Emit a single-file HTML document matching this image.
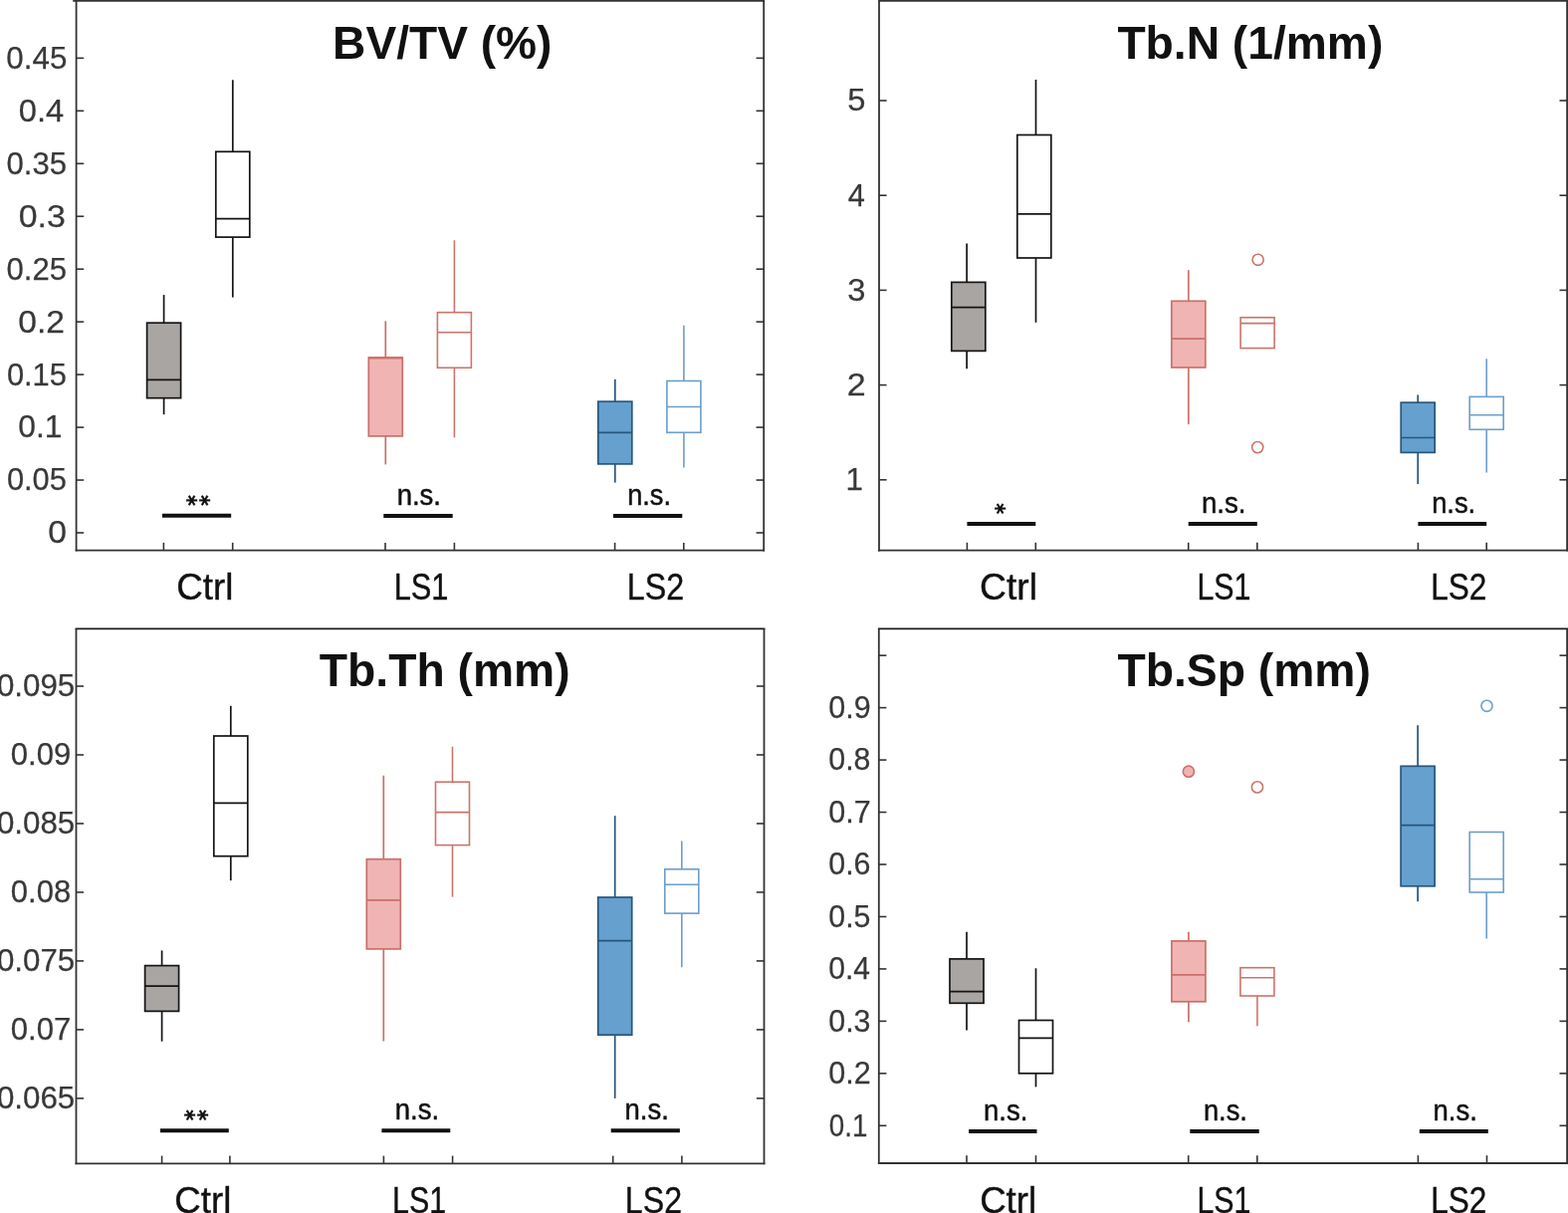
<!DOCTYPE html>
<html><head><meta charset="utf-8"><title>Bone morphometry boxplots</title>
<style>
html,body{margin:0;padding:0;background:#fff;}
body{width:1575px;height:1218px;overflow:hidden;}
svg{display:block;}
text{font-kerning:none;}
</style></head><body>
<svg width="1575" height="1218" viewBox="0 0 1575 1218">
<rect x="0" y="0" width="1575" height="1218" fill="#ffffff"/>
<line x1="73.20" y1="0.90" x2="768.10" y2="0.90" stroke="#333333" stroke-width="1.8"/>
<line x1="76.60" y1="0.90" x2="76.60" y2="553.60" stroke="#333333" stroke-width="1.8"/>
<line x1="767.20" y1="0.90" x2="767.20" y2="553.60" stroke="#333333" stroke-width="1.8"/>
<line x1="75.70" y1="552.70" x2="768.10" y2="552.70" stroke="#333333" stroke-width="1.8"/>
<line x1="76.60" y1="535.00" x2="84.20" y2="535.00" stroke="#333333" stroke-width="1.6"/>
<line x1="767.20" y1="535.00" x2="759.60" y2="535.00" stroke="#333333" stroke-width="1.6"/>
<line x1="76.60" y1="482.04" x2="84.20" y2="482.04" stroke="#333333" stroke-width="1.6"/>
<line x1="767.20" y1="482.04" x2="759.60" y2="482.04" stroke="#333333" stroke-width="1.6"/>
<line x1="76.60" y1="429.08" x2="84.20" y2="429.08" stroke="#333333" stroke-width="1.6"/>
<line x1="767.20" y1="429.08" x2="759.60" y2="429.08" stroke="#333333" stroke-width="1.6"/>
<line x1="76.60" y1="376.12" x2="84.20" y2="376.12" stroke="#333333" stroke-width="1.6"/>
<line x1="767.20" y1="376.12" x2="759.60" y2="376.12" stroke="#333333" stroke-width="1.6"/>
<line x1="76.60" y1="323.16" x2="84.20" y2="323.16" stroke="#333333" stroke-width="1.6"/>
<line x1="767.20" y1="323.16" x2="759.60" y2="323.16" stroke="#333333" stroke-width="1.6"/>
<line x1="76.60" y1="270.20" x2="84.20" y2="270.20" stroke="#333333" stroke-width="1.6"/>
<line x1="767.20" y1="270.20" x2="759.60" y2="270.20" stroke="#333333" stroke-width="1.6"/>
<line x1="76.60" y1="217.24" x2="84.20" y2="217.24" stroke="#333333" stroke-width="1.6"/>
<line x1="767.20" y1="217.24" x2="759.60" y2="217.24" stroke="#333333" stroke-width="1.6"/>
<line x1="76.60" y1="164.28" x2="84.20" y2="164.28" stroke="#333333" stroke-width="1.6"/>
<line x1="767.20" y1="164.28" x2="759.60" y2="164.28" stroke="#333333" stroke-width="1.6"/>
<line x1="76.60" y1="111.32" x2="84.20" y2="111.32" stroke="#333333" stroke-width="1.6"/>
<line x1="767.20" y1="111.32" x2="759.60" y2="111.32" stroke="#333333" stroke-width="1.6"/>
<line x1="76.60" y1="58.36" x2="84.20" y2="58.36" stroke="#333333" stroke-width="1.6"/>
<line x1="767.20" y1="58.36" x2="759.60" y2="58.36" stroke="#333333" stroke-width="1.6"/>
<line x1="164.40" y1="552.70" x2="164.40" y2="544.90" stroke="#333333" stroke-width="1.6"/>
<line x1="233.70" y1="552.70" x2="233.70" y2="544.90" stroke="#333333" stroke-width="1.6"/>
<line x1="387.00" y1="552.70" x2="387.00" y2="544.90" stroke="#333333" stroke-width="1.6"/>
<line x1="456.40" y1="552.70" x2="456.40" y2="544.90" stroke="#333333" stroke-width="1.6"/>
<line x1="617.60" y1="552.70" x2="617.60" y2="544.90" stroke="#333333" stroke-width="1.6"/>
<line x1="686.80" y1="552.70" x2="686.80" y2="544.90" stroke="#333333" stroke-width="1.6"/>
<text x="48.18" y="545.40" font-size="31.3" textLength="18.73" lengthAdjust="spacingAndGlyphs" fill="#383838" stroke="#383838" stroke-width="0.25" font-weight="normal" style="font-family:'Liberation Sans', sans-serif">0</text>
<text x="6.90" y="492.44" font-size="31.3" textLength="60.00" lengthAdjust="spacingAndGlyphs" fill="#383838" stroke="#383838" stroke-width="0.25" font-weight="normal" style="font-family:'Liberation Sans', sans-serif">0.05</text>
<text x="18.36" y="439.48" font-size="31.3" textLength="44.19" lengthAdjust="spacingAndGlyphs" fill="#383838" stroke="#383838" stroke-width="0.25" font-weight="normal" style="font-family:'Liberation Sans', sans-serif">0.1</text>
<text x="6.90" y="386.52" font-size="31.3" textLength="60.00" lengthAdjust="spacingAndGlyphs" fill="#383838" stroke="#383838" stroke-width="0.25" font-weight="normal" style="font-family:'Liberation Sans', sans-serif">0.15</text>
<text x="18.29" y="333.56" font-size="31.3" textLength="46.70" lengthAdjust="spacingAndGlyphs" fill="#383838" stroke="#383838" stroke-width="0.25" font-weight="normal" style="font-family:'Liberation Sans', sans-serif">0.2</text>
<text x="6.59" y="280.60" font-size="31.3" textLength="60.52" lengthAdjust="spacingAndGlyphs" fill="#383838" stroke="#383838" stroke-width="0.25" font-weight="normal" style="font-family:'Liberation Sans', sans-serif">0.25</text>
<text x="18.68" y="227.64" font-size="31.3" textLength="47.11" lengthAdjust="spacingAndGlyphs" fill="#383838" stroke="#383838" stroke-width="0.25" font-weight="normal" style="font-family:'Liberation Sans', sans-serif">0.3</text>
<text x="6.59" y="174.68" font-size="31.3" textLength="60.52" lengthAdjust="spacingAndGlyphs" fill="#383838" stroke="#383838" stroke-width="0.25" font-weight="normal" style="font-family:'Liberation Sans', sans-serif">0.35</text>
<text x="18.72" y="121.72" font-size="31.3" textLength="45.43" lengthAdjust="spacingAndGlyphs" fill="#383838" stroke="#383838" stroke-width="0.25" font-weight="normal" style="font-family:'Liberation Sans', sans-serif">0.4</text>
<text x="6.38" y="68.76" font-size="31.3" textLength="60.94" lengthAdjust="spacingAndGlyphs" fill="#383838" stroke="#383838" stroke-width="0.25" font-weight="normal" style="font-family:'Liberation Sans', sans-serif">0.45</text>
<line x1="164.60" y1="296.10" x2="164.60" y2="324.20" stroke="#141414" stroke-width="1.7"/>
<line x1="164.60" y1="399.70" x2="164.60" y2="416.20" stroke="#141414" stroke-width="1.7"/>
<rect x="147.60" y="324.20" width="34.0" height="75.50" fill="#a9a5a3" stroke="#141414" stroke-width="1.7"/>
<line x1="147.60" y1="381.30" x2="181.60" y2="381.30" stroke="#141414" stroke-width="1.7"/>
<line x1="233.80" y1="80.30" x2="233.80" y2="152.30" stroke="#141414" stroke-width="1.7"/>
<line x1="233.80" y1="238.10" x2="233.80" y2="298.60" stroke="#141414" stroke-width="1.7"/>
<rect x="216.80" y="152.30" width="34.0" height="85.80" fill="none" stroke="#141414" stroke-width="1.7"/>
<line x1="216.80" y1="219.70" x2="250.80" y2="219.70" stroke="#141414" stroke-width="1.7"/>
<line x1="387.30" y1="322.30" x2="387.30" y2="359.00" stroke="#c9706a" stroke-width="1.7"/>
<line x1="387.30" y1="437.90" x2="387.30" y2="466.40" stroke="#c9706a" stroke-width="1.7"/>
<rect x="370.30" y="359.00" width="34.0" height="78.90" fill="#f0b4b3" stroke="#c9706a" stroke-width="1.7"/>
<line x1="370.30" y1="359.60" x2="404.30" y2="359.60" stroke="#c9706a" stroke-width="1.7"/>
<line x1="456.40" y1="241.30" x2="456.40" y2="313.70" stroke="#cc746b" stroke-width="1.6"/>
<line x1="456.40" y1="369.30" x2="456.40" y2="439.30" stroke="#cc746b" stroke-width="1.6"/>
<rect x="439.40" y="313.70" width="34.0" height="55.60" fill="none" stroke="#cc746b" stroke-width="1.6"/>
<line x1="439.40" y1="333.80" x2="473.40" y2="333.80" stroke="#cc746b" stroke-width="1.6"/>
<line x1="617.80" y1="380.90" x2="617.80" y2="403.20" stroke="#28557a" stroke-width="1.7"/>
<line x1="617.80" y1="465.90" x2="617.80" y2="484.60" stroke="#28557a" stroke-width="1.7"/>
<rect x="600.80" y="403.20" width="34.0" height="62.70" fill="#65a0ce" stroke="#28557a" stroke-width="1.7"/>
<line x1="600.80" y1="434.30" x2="634.80" y2="434.30" stroke="#28557a" stroke-width="1.7"/>
<line x1="686.90" y1="326.80" x2="686.90" y2="382.50" stroke="#6c9ecb" stroke-width="1.6"/>
<line x1="686.90" y1="434.30" x2="686.90" y2="469.40" stroke="#6c9ecb" stroke-width="1.6"/>
<rect x="669.90" y="382.50" width="34.0" height="51.80" fill="none" stroke="#6c9ecb" stroke-width="1.6"/>
<line x1="669.90" y1="408.50" x2="703.90" y2="408.50" stroke="#6c9ecb" stroke-width="1.6"/>
<line x1="163.00" y1="517.80" x2="232.20" y2="517.80" stroke="#111111" stroke-width="4"/>
<line x1="385.30" y1="517.90" x2="454.70" y2="517.90" stroke="#111111" stroke-width="4"/>
<line x1="616.00" y1="517.90" x2="685.30" y2="517.90" stroke="#111111" stroke-width="4"/>
<text transform="translate(193.40,502.60) scale(1.12,1) rotate(90)" x="-5.49" y="10.71" font-size="21.0" fill="#111111" stroke="#111111" stroke-width="0.35" font-weight="bold" style="font-family:'DejaVu Sans', sans-serif">*</text>
<text transform="translate(205.90,502.60) scale(1.12,1) rotate(90)" x="-5.49" y="10.71" font-size="21.0" fill="#111111" stroke="#111111" stroke-width="0.35" font-weight="bold" style="font-family:'DejaVu Sans', sans-serif">*</text>
<text x="398.67" y="506.70" font-size="28.8" textLength="44.34" lengthAdjust="spacingAndGlyphs" fill="#111111" stroke="#111111" stroke-width="0.5" font-weight="normal" style="font-family:'Liberation Sans', sans-serif">n.s.</text>
<text x="630.20" y="506.70" font-size="28.8" textLength="43.78" lengthAdjust="spacingAndGlyphs" fill="#111111" stroke="#111111" stroke-width="0.5" font-weight="normal" style="font-family:'Liberation Sans', sans-serif">n.s.</text>
<text x="177.23" y="602.20" font-size="37.5" textLength="57.12" lengthAdjust="spacingAndGlyphs" fill="#111111" stroke="#111111" stroke-width="0.4" font-weight="normal" style="font-family:'Liberation Sans', sans-serif">Ctrl</text>
<text x="395.67" y="602.40" font-size="37.5" textLength="54.83" lengthAdjust="spacingAndGlyphs" fill="#111111" stroke="#111111" stroke-width="0.4" font-weight="normal" style="font-family:'Liberation Sans', sans-serif">LS1</text>
<text x="629.86" y="602.40" font-size="37.5" textLength="57.37" lengthAdjust="spacingAndGlyphs" fill="#111111" stroke="#111111" stroke-width="0.4" font-weight="normal" style="font-family:'Liberation Sans', sans-serif">LS2</text>
<text x="334.11" y="58.90" font-size="46.2" textLength="220.38" lengthAdjust="spacingAndGlyphs" fill="#111111" font-weight="bold" style="font-family:'Liberation Sans', sans-serif">BV/TV (%)</text>
<line x1="882.10" y1="0.90" x2="1575.00" y2="0.90" stroke="#333333" stroke-width="1.8"/>
<line x1="883.00" y1="0.90" x2="883.00" y2="553.50" stroke="#333333" stroke-width="1.8"/>
<line x1="1574.10" y1="0.90" x2="1574.10" y2="553.50" stroke="#333333" stroke-width="1.8"/>
<line x1="882.10" y1="552.60" x2="1575.00" y2="552.60" stroke="#333333" stroke-width="1.8"/>
<line x1="883.00" y1="481.80" x2="890.60" y2="481.80" stroke="#333333" stroke-width="1.6"/>
<line x1="1574.10" y1="481.80" x2="1566.50" y2="481.80" stroke="#333333" stroke-width="1.6"/>
<line x1="883.00" y1="386.60" x2="890.60" y2="386.60" stroke="#333333" stroke-width="1.6"/>
<line x1="1574.10" y1="386.60" x2="1566.50" y2="386.60" stroke="#333333" stroke-width="1.6"/>
<line x1="883.00" y1="291.40" x2="890.60" y2="291.40" stroke="#333333" stroke-width="1.6"/>
<line x1="1574.10" y1="291.40" x2="1566.50" y2="291.40" stroke="#333333" stroke-width="1.6"/>
<line x1="883.00" y1="196.20" x2="890.60" y2="196.20" stroke="#333333" stroke-width="1.6"/>
<line x1="1574.10" y1="196.20" x2="1566.50" y2="196.20" stroke="#333333" stroke-width="1.6"/>
<line x1="883.00" y1="101.00" x2="890.60" y2="101.00" stroke="#333333" stroke-width="1.6"/>
<line x1="1574.10" y1="101.00" x2="1566.50" y2="101.00" stroke="#333333" stroke-width="1.6"/>
<line x1="971.40" y1="552.60" x2="971.40" y2="544.80" stroke="#333333" stroke-width="1.6"/>
<line x1="1040.30" y1="552.60" x2="1040.30" y2="544.80" stroke="#333333" stroke-width="1.6"/>
<line x1="1193.70" y1="552.60" x2="1193.70" y2="544.80" stroke="#333333" stroke-width="1.6"/>
<line x1="1262.80" y1="552.60" x2="1262.80" y2="544.80" stroke="#333333" stroke-width="1.6"/>
<line x1="1424.40" y1="552.60" x2="1424.40" y2="544.80" stroke="#333333" stroke-width="1.6"/>
<line x1="1493.20" y1="552.60" x2="1493.20" y2="544.80" stroke="#333333" stroke-width="1.6"/>
<text x="849.42" y="492.20" font-size="31.3" fill="#383838" stroke="#383838" stroke-width="0.25" font-weight="normal" style="font-family:'Liberation Sans', sans-serif">1</text>
<text x="850.79" y="397.00" font-size="31.3" textLength="18.92" lengthAdjust="spacingAndGlyphs" fill="#383838" stroke="#383838" stroke-width="0.25" font-weight="normal" style="font-family:'Liberation Sans', sans-serif">2</text>
<text x="851.25" y="301.80" font-size="31.3" textLength="18.18" lengthAdjust="spacingAndGlyphs" fill="#383838" stroke="#383838" stroke-width="0.25" font-weight="normal" style="font-family:'Liberation Sans', sans-serif">3</text>
<text x="851.79" y="206.60" font-size="31.3" textLength="17.11" lengthAdjust="spacingAndGlyphs" fill="#383838" stroke="#383838" stroke-width="0.25" font-weight="normal" style="font-family:'Liberation Sans', sans-serif">4</text>
<text x="851.19" y="111.40" font-size="31.3" textLength="18.18" lengthAdjust="spacingAndGlyphs" fill="#383838" stroke="#383838" stroke-width="0.25" font-weight="normal" style="font-family:'Liberation Sans', sans-serif">5</text>
<line x1="971.10" y1="244.50" x2="971.10" y2="283.40" stroke="#141414" stroke-width="1.7"/>
<line x1="971.10" y1="352.40" x2="971.10" y2="370.30" stroke="#141414" stroke-width="1.7"/>
<rect x="955.80" y="283.40" width="34.0" height="69.00" fill="#a9a5a3" stroke="#141414" stroke-width="1.7"/>
<line x1="955.80" y1="308.60" x2="989.80" y2="308.60" stroke="#141414" stroke-width="1.7"/>
<line x1="1040.50" y1="80.00" x2="1040.50" y2="135.50" stroke="#141414" stroke-width="1.7"/>
<line x1="1040.50" y1="259.00" x2="1040.50" y2="323.80" stroke="#141414" stroke-width="1.7"/>
<rect x="1021.80" y="135.50" width="34.0" height="123.50" fill="none" stroke="#141414" stroke-width="1.7"/>
<line x1="1021.80" y1="214.80" x2="1055.80" y2="214.80" stroke="#141414" stroke-width="1.7"/>
<line x1="1193.80" y1="271.20" x2="1193.80" y2="302.30" stroke="#c9706a" stroke-width="1.7"/>
<line x1="1193.80" y1="369.00" x2="1193.80" y2="426.10" stroke="#c9706a" stroke-width="1.7"/>
<rect x="1176.80" y="302.30" width="34.0" height="66.70" fill="#f0b4b3" stroke="#c9706a" stroke-width="1.7"/>
<line x1="1176.80" y1="340.10" x2="1210.80" y2="340.10" stroke="#c9706a" stroke-width="1.7"/>
<rect x="1246.10" y="318.80" width="34.0" height="30.80" fill="none" stroke="#cc746b" stroke-width="1.6"/>
<line x1="1246.10" y1="324.60" x2="1280.10" y2="324.60" stroke="#cc746b" stroke-width="1.6"/>
<circle cx="1263.60" cy="260.80" r="5.6" fill="none" stroke="#cc746b" stroke-width="1.6"/>
<circle cx="1263.20" cy="449.10" r="5.6" fill="none" stroke="#cc746b" stroke-width="1.6"/>
<line x1="1424.20" y1="396.50" x2="1424.20" y2="404.20" stroke="#28557a" stroke-width="1.7"/>
<line x1="1424.20" y1="454.40" x2="1424.20" y2="486.10" stroke="#28557a" stroke-width="1.7"/>
<rect x="1407.20" y="404.20" width="34.0" height="50.20" fill="#65a0ce" stroke="#28557a" stroke-width="1.7"/>
<line x1="1407.20" y1="439.50" x2="1441.20" y2="439.50" stroke="#28557a" stroke-width="1.7"/>
<line x1="1493.20" y1="360.20" x2="1493.20" y2="398.40" stroke="#6c9ecb" stroke-width="1.6"/>
<line x1="1493.20" y1="431.30" x2="1493.20" y2="474.60" stroke="#6c9ecb" stroke-width="1.6"/>
<rect x="1476.20" y="398.40" width="34.0" height="32.90" fill="none" stroke="#6c9ecb" stroke-width="1.6"/>
<line x1="1476.20" y1="416.70" x2="1510.20" y2="416.70" stroke="#6c9ecb" stroke-width="1.6"/>
<line x1="971.40" y1="526.10" x2="1040.30" y2="526.10" stroke="#111111" stroke-width="4"/>
<line x1="1193.70" y1="526.10" x2="1262.80" y2="526.10" stroke="#111111" stroke-width="4"/>
<line x1="1424.40" y1="526.10" x2="1493.20" y2="526.10" stroke="#111111" stroke-width="4"/>
<text transform="translate(1004.50,510.80) scale(1.12,1) rotate(90)" x="-5.49" y="10.71" font-size="21.0" fill="#111111" stroke="#111111" stroke-width="0.35" font-weight="bold" style="font-family:'DejaVu Sans', sans-serif">*</text>
<text x="1206.96" y="514.50" font-size="28.8" textLength="44.56" lengthAdjust="spacingAndGlyphs" fill="#111111" stroke="#111111" stroke-width="0.5" font-weight="normal" style="font-family:'Liberation Sans', sans-serif">n.s.</text>
<text x="1438.19" y="514.50" font-size="28.8" textLength="44.01" lengthAdjust="spacingAndGlyphs" fill="#111111" stroke="#111111" stroke-width="0.5" font-weight="normal" style="font-family:'Liberation Sans', sans-serif">n.s.</text>
<text x="984.11" y="602.20" font-size="37.5" textLength="57.88" lengthAdjust="spacingAndGlyphs" fill="#111111" stroke="#111111" stroke-width="0.4" font-weight="normal" style="font-family:'Liberation Sans', sans-serif">Ctrl</text>
<text x="1202.51" y="602.30" font-size="37.5" textLength="53.97" lengthAdjust="spacingAndGlyphs" fill="#111111" stroke="#111111" stroke-width="0.4" font-weight="normal" style="font-family:'Liberation Sans', sans-serif">LS1</text>
<text x="1437.21" y="602.30" font-size="37.5" textLength="56.18" lengthAdjust="spacingAndGlyphs" fill="#111111" stroke="#111111" stroke-width="0.4" font-weight="normal" style="font-family:'Liberation Sans', sans-serif">LS2</text>
<text x="1122.38" y="58.70" font-size="46.2" textLength="266.92" lengthAdjust="spacingAndGlyphs" fill="#111111" font-weight="bold" style="font-family:'Liberation Sans', sans-serif">Tb.N (1/mm)</text>
<line x1="75.60" y1="631.30" x2="768.40" y2="631.30" stroke="#1c1c1c" stroke-width="1.8"/>
<line x1="76.50" y1="631.30" x2="76.50" y2="1169.30" stroke="#333333" stroke-width="1.8"/>
<line x1="767.50" y1="631.30" x2="767.50" y2="1169.30" stroke="#333333" stroke-width="1.8"/>
<line x1="75.60" y1="1168.40" x2="768.40" y2="1168.40" stroke="#333333" stroke-width="1.8"/>
<line x1="76.50" y1="1102.88" x2="84.10" y2="1102.88" stroke="#333333" stroke-width="1.6"/>
<line x1="767.50" y1="1102.88" x2="759.90" y2="1102.88" stroke="#333333" stroke-width="1.6"/>
<line x1="76.50" y1="1033.90" x2="84.10" y2="1033.90" stroke="#333333" stroke-width="1.6"/>
<line x1="767.50" y1="1033.90" x2="759.90" y2="1033.90" stroke="#333333" stroke-width="1.6"/>
<line x1="76.50" y1="964.92" x2="84.10" y2="964.92" stroke="#333333" stroke-width="1.6"/>
<line x1="767.50" y1="964.92" x2="759.90" y2="964.92" stroke="#333333" stroke-width="1.6"/>
<line x1="76.50" y1="895.94" x2="84.10" y2="895.94" stroke="#333333" stroke-width="1.6"/>
<line x1="767.50" y1="895.94" x2="759.90" y2="895.94" stroke="#333333" stroke-width="1.6"/>
<line x1="76.50" y1="826.96" x2="84.10" y2="826.96" stroke="#333333" stroke-width="1.6"/>
<line x1="767.50" y1="826.96" x2="759.90" y2="826.96" stroke="#333333" stroke-width="1.6"/>
<line x1="76.50" y1="757.98" x2="84.10" y2="757.98" stroke="#333333" stroke-width="1.6"/>
<line x1="767.50" y1="757.98" x2="759.90" y2="757.98" stroke="#333333" stroke-width="1.6"/>
<line x1="76.50" y1="689.00" x2="84.10" y2="689.00" stroke="#333333" stroke-width="1.6"/>
<line x1="767.50" y1="689.00" x2="759.90" y2="689.00" stroke="#333333" stroke-width="1.6"/>
<line x1="162.60" y1="1168.40" x2="162.60" y2="1160.60" stroke="#333333" stroke-width="1.6"/>
<line x1="230.90" y1="1168.40" x2="230.90" y2="1160.60" stroke="#333333" stroke-width="1.6"/>
<line x1="385.40" y1="1168.40" x2="385.40" y2="1160.60" stroke="#333333" stroke-width="1.6"/>
<line x1="454.60" y1="1168.40" x2="454.60" y2="1160.60" stroke="#333333" stroke-width="1.6"/>
<line x1="615.70" y1="1168.40" x2="615.70" y2="1160.60" stroke="#333333" stroke-width="1.6"/>
<line x1="684.90" y1="1168.40" x2="684.90" y2="1160.60" stroke="#333333" stroke-width="1.6"/>
<text x="-3.11" y="1113.28" font-size="31.3" fill="#383838" stroke="#383838" stroke-width="0.25" font-weight="normal" style="font-family:'Liberation Sans', sans-serif">0.065</text>
<text x="10.78" y="1044.30" font-size="31.3" textLength="60.58" lengthAdjust="spacingAndGlyphs" fill="#383838" stroke="#383838" stroke-width="0.25" font-weight="normal" style="font-family:'Liberation Sans', sans-serif">0.07</text>
<text x="-3.11" y="975.32" font-size="31.3" fill="#383838" stroke="#383838" stroke-width="0.25" font-weight="normal" style="font-family:'Liberation Sans', sans-serif">0.075</text>
<text x="10.79" y="906.34" font-size="31.3" textLength="60.36" lengthAdjust="spacingAndGlyphs" fill="#383838" stroke="#383838" stroke-width="0.25" font-weight="normal" style="font-family:'Liberation Sans', sans-serif">0.08</text>
<text x="-3.11" y="837.36" font-size="31.3" fill="#383838" stroke="#383838" stroke-width="0.25" font-weight="normal" style="font-family:'Liberation Sans', sans-serif">0.085</text>
<text x="10.79" y="768.38" font-size="31.3" textLength="60.49" lengthAdjust="spacingAndGlyphs" fill="#383838" stroke="#383838" stroke-width="0.25" font-weight="normal" style="font-family:'Liberation Sans', sans-serif">0.09</text>
<text x="-3.11" y="699.40" font-size="31.3" fill="#383838" stroke="#383838" stroke-width="0.25" font-weight="normal" style="font-family:'Liberation Sans', sans-serif">0.095</text>
<line x1="162.60" y1="954.40" x2="162.60" y2="969.60" stroke="#141414" stroke-width="1.7"/>
<line x1="162.60" y1="1015.40" x2="162.60" y2="1045.70" stroke="#141414" stroke-width="1.7"/>
<rect x="145.60" y="969.60" width="34.0" height="45.80" fill="#a9a5a3" stroke="#141414" stroke-width="1.7"/>
<line x1="145.60" y1="990.20" x2="179.60" y2="990.20" stroke="#141414" stroke-width="1.7"/>
<line x1="231.80" y1="708.80" x2="231.80" y2="739.00" stroke="#141414" stroke-width="1.7"/>
<line x1="231.80" y1="859.70" x2="231.80" y2="884.10" stroke="#141414" stroke-width="1.7"/>
<rect x="214.80" y="739.00" width="34.0" height="120.70" fill="none" stroke="#141414" stroke-width="1.7"/>
<line x1="214.80" y1="806.40" x2="248.80" y2="806.40" stroke="#141414" stroke-width="1.7"/>
<line x1="385.30" y1="778.70" x2="385.30" y2="862.70" stroke="#c9706a" stroke-width="1.7"/>
<line x1="385.30" y1="952.90" x2="385.30" y2="1045.50" stroke="#c9706a" stroke-width="1.7"/>
<rect x="368.30" y="862.70" width="34.0" height="90.20" fill="#f0b4b3" stroke="#c9706a" stroke-width="1.7"/>
<line x1="368.30" y1="903.80" x2="402.30" y2="903.80" stroke="#c9706a" stroke-width="1.7"/>
<line x1="454.50" y1="749.80" x2="454.50" y2="785.20" stroke="#cc746b" stroke-width="1.6"/>
<line x1="454.50" y1="848.60" x2="454.50" y2="900.60" stroke="#cc746b" stroke-width="1.6"/>
<rect x="437.50" y="785.20" width="34.0" height="63.40" fill="none" stroke="#cc746b" stroke-width="1.6"/>
<line x1="437.50" y1="815.60" x2="471.50" y2="815.60" stroke="#cc746b" stroke-width="1.6"/>
<line x1="617.70" y1="819.10" x2="617.70" y2="901.00" stroke="#28557a" stroke-width="1.7"/>
<line x1="617.70" y1="1039.20" x2="617.70" y2="1102.90" stroke="#28557a" stroke-width="1.7"/>
<rect x="600.70" y="901.00" width="34.0" height="138.20" fill="#65a0ce" stroke="#28557a" stroke-width="1.7"/>
<line x1="600.70" y1="944.60" x2="634.70" y2="944.60" stroke="#28557a" stroke-width="1.7"/>
<line x1="684.80" y1="844.50" x2="684.80" y2="872.80" stroke="#6c9ecb" stroke-width="1.6"/>
<line x1="684.80" y1="917.10" x2="684.80" y2="971.30" stroke="#6c9ecb" stroke-width="1.6"/>
<rect x="667.80" y="872.80" width="34.0" height="44.30" fill="none" stroke="#6c9ecb" stroke-width="1.6"/>
<line x1="667.80" y1="888.30" x2="701.80" y2="888.30" stroke="#6c9ecb" stroke-width="1.6"/>
<line x1="161.00" y1="1135.20" x2="229.80" y2="1135.20" stroke="#111111" stroke-width="4"/>
<line x1="383.40" y1="1135.20" x2="452.30" y2="1135.20" stroke="#111111" stroke-width="4"/>
<line x1="613.70" y1="1135.20" x2="682.90" y2="1135.20" stroke="#111111" stroke-width="4"/>
<text transform="translate(191.00,1119.70) scale(1.12,1) rotate(90)" x="-5.49" y="10.71" font-size="21.0" fill="#111111" stroke="#111111" stroke-width="0.35" font-weight="bold" style="font-family:'DejaVu Sans', sans-serif">*</text>
<text transform="translate(203.60,1119.70) scale(1.12,1) rotate(90)" x="-5.49" y="10.71" font-size="21.0" fill="#111111" stroke="#111111" stroke-width="0.35" font-weight="bold" style="font-family:'DejaVu Sans', sans-serif">*</text>
<text x="396.77" y="1124.30" font-size="28.8" textLength="44.34" lengthAdjust="spacingAndGlyphs" fill="#111111" stroke="#111111" stroke-width="0.5" font-weight="normal" style="font-family:'Liberation Sans', sans-serif">n.s.</text>
<text x="627.57" y="1124.30" font-size="28.8" textLength="44.34" lengthAdjust="spacingAndGlyphs" fill="#111111" stroke="#111111" stroke-width="0.5" font-weight="normal" style="font-family:'Liberation Sans', sans-serif">n.s.</text>
<text x="175.34" y="1217.80" font-size="37.5" textLength="57.01" lengthAdjust="spacingAndGlyphs" fill="#111111" stroke="#111111" stroke-width="0.4" font-weight="normal" style="font-family:'Liberation Sans', sans-serif">Ctrl</text>
<text x="394.11" y="1218.20" font-size="37.5" textLength="54.08" lengthAdjust="spacingAndGlyphs" fill="#111111" stroke="#111111" stroke-width="0.4" font-weight="normal" style="font-family:'Liberation Sans', sans-serif">LS1</text>
<text x="627.87" y="1218.20" font-size="37.5" textLength="57.15" lengthAdjust="spacingAndGlyphs" fill="#111111" stroke="#111111" stroke-width="0.4" font-weight="normal" style="font-family:'Liberation Sans', sans-serif">LS2</text>
<text x="320.78" y="688.80" font-size="46.2" textLength="251.92" lengthAdjust="spacingAndGlyphs" fill="#111111" font-weight="bold" style="font-family:'Liberation Sans', sans-serif">Tb.Th (mm)</text>
<line x1="881.90" y1="631.40" x2="1575.00" y2="631.40" stroke="#1c1c1c" stroke-width="1.8"/>
<line x1="882.80" y1="631.40" x2="882.80" y2="1168.90" stroke="#333333" stroke-width="1.8"/>
<line x1="1574.10" y1="631.40" x2="1574.10" y2="1168.90" stroke="#333333" stroke-width="1.8"/>
<line x1="881.90" y1="1168.00" x2="1575.00" y2="1168.00" stroke="#333333" stroke-width="1.8"/>
<line x1="882.80" y1="1130.30" x2="890.40" y2="1130.30" stroke="#333333" stroke-width="1.6"/>
<line x1="1574.10" y1="1130.30" x2="1566.50" y2="1130.30" stroke="#333333" stroke-width="1.6"/>
<line x1="882.80" y1="1077.84" x2="890.40" y2="1077.84" stroke="#333333" stroke-width="1.6"/>
<line x1="1574.10" y1="1077.84" x2="1566.50" y2="1077.84" stroke="#333333" stroke-width="1.6"/>
<line x1="882.80" y1="1025.38" x2="890.40" y2="1025.38" stroke="#333333" stroke-width="1.6"/>
<line x1="1574.10" y1="1025.38" x2="1566.50" y2="1025.38" stroke="#333333" stroke-width="1.6"/>
<line x1="882.80" y1="972.92" x2="890.40" y2="972.92" stroke="#333333" stroke-width="1.6"/>
<line x1="1574.10" y1="972.92" x2="1566.50" y2="972.92" stroke="#333333" stroke-width="1.6"/>
<line x1="882.80" y1="920.46" x2="890.40" y2="920.46" stroke="#333333" stroke-width="1.6"/>
<line x1="1574.10" y1="920.46" x2="1566.50" y2="920.46" stroke="#333333" stroke-width="1.6"/>
<line x1="882.80" y1="868.00" x2="890.40" y2="868.00" stroke="#333333" stroke-width="1.6"/>
<line x1="1574.10" y1="868.00" x2="1566.50" y2="868.00" stroke="#333333" stroke-width="1.6"/>
<line x1="882.80" y1="815.54" x2="890.40" y2="815.54" stroke="#333333" stroke-width="1.6"/>
<line x1="1574.10" y1="815.54" x2="1566.50" y2="815.54" stroke="#333333" stroke-width="1.6"/>
<line x1="882.80" y1="763.08" x2="890.40" y2="763.08" stroke="#333333" stroke-width="1.6"/>
<line x1="1574.10" y1="763.08" x2="1566.50" y2="763.08" stroke="#333333" stroke-width="1.6"/>
<line x1="882.80" y1="710.62" x2="890.40" y2="710.62" stroke="#333333" stroke-width="1.6"/>
<line x1="1574.10" y1="710.62" x2="1566.50" y2="710.62" stroke="#333333" stroke-width="1.6"/>
<line x1="882.80" y1="658.16" x2="890.40" y2="658.16" stroke="#333333" stroke-width="1.6"/>
<line x1="1574.10" y1="658.16" x2="1566.50" y2="658.16" stroke="#333333" stroke-width="1.6"/>
<line x1="971.00" y1="1168.00" x2="971.00" y2="1160.20" stroke="#333333" stroke-width="1.6"/>
<line x1="1040.50" y1="1168.00" x2="1040.50" y2="1160.20" stroke="#333333" stroke-width="1.6"/>
<line x1="1193.70" y1="1168.00" x2="1193.70" y2="1160.20" stroke="#333333" stroke-width="1.6"/>
<line x1="1262.80" y1="1168.00" x2="1262.80" y2="1160.20" stroke="#333333" stroke-width="1.6"/>
<line x1="1424.40" y1="1168.00" x2="1424.40" y2="1160.20" stroke="#333333" stroke-width="1.6"/>
<line x1="1493.50" y1="1168.00" x2="1493.50" y2="1160.20" stroke="#333333" stroke-width="1.6"/>
<text x="832.82" y="1140.70" font-size="31.3" textLength="38.54" lengthAdjust="spacingAndGlyphs" fill="#383838" stroke="#383838" stroke-width="0.25" font-weight="normal" style="font-family:'Liberation Sans', sans-serif">0.1</text>
<text x="832.31" y="1088.24" font-size="31.3" textLength="42.43" lengthAdjust="spacingAndGlyphs" fill="#383838" stroke="#383838" stroke-width="0.25" font-weight="normal" style="font-family:'Liberation Sans', sans-serif">0.2</text>
<text x="832.31" y="1035.78" font-size="31.3" textLength="42.22" lengthAdjust="spacingAndGlyphs" fill="#383838" stroke="#383838" stroke-width="0.25" font-weight="normal" style="font-family:'Liberation Sans', sans-serif">0.3</text>
<text x="832.33" y="983.32" font-size="31.3" textLength="41.75" lengthAdjust="spacingAndGlyphs" fill="#383838" stroke="#383838" stroke-width="0.25" font-weight="normal" style="font-family:'Liberation Sans', sans-serif">0.4</text>
<text x="832.32" y="930.86" font-size="31.3" textLength="42.16" lengthAdjust="spacingAndGlyphs" fill="#383838" stroke="#383838" stroke-width="0.25" font-weight="normal" style="font-family:'Liberation Sans', sans-serif">0.5</text>
<text x="832.31" y="878.40" font-size="31.3" textLength="42.22" lengthAdjust="spacingAndGlyphs" fill="#383838" stroke="#383838" stroke-width="0.25" font-weight="normal" style="font-family:'Liberation Sans', sans-serif">0.6</text>
<text x="832.31" y="825.94" font-size="31.3" textLength="42.43" lengthAdjust="spacingAndGlyphs" fill="#383838" stroke="#383838" stroke-width="0.25" font-weight="normal" style="font-family:'Liberation Sans', sans-serif">0.7</text>
<text x="832.31" y="773.48" font-size="31.3" textLength="42.21" lengthAdjust="spacingAndGlyphs" fill="#383838" stroke="#383838" stroke-width="0.25" font-weight="normal" style="font-family:'Liberation Sans', sans-serif">0.8</text>
<text x="832.31" y="721.02" font-size="31.3" textLength="42.33" lengthAdjust="spacingAndGlyphs" fill="#383838" stroke="#383838" stroke-width="0.25" font-weight="normal" style="font-family:'Liberation Sans', sans-serif">0.9</text>
<line x1="971.00" y1="935.80" x2="971.00" y2="962.90" stroke="#141414" stroke-width="1.7"/>
<line x1="971.00" y1="1007.30" x2="971.00" y2="1034.50" stroke="#141414" stroke-width="1.7"/>
<rect x="954.00" y="962.90" width="34.0" height="44.40" fill="#a9a5a3" stroke="#141414" stroke-width="1.7"/>
<line x1="954.00" y1="995.60" x2="988.00" y2="995.60" stroke="#141414" stroke-width="1.7"/>
<line x1="1040.50" y1="972.30" x2="1040.50" y2="1024.50" stroke="#141414" stroke-width="1.7"/>
<line x1="1040.50" y1="1077.80" x2="1040.50" y2="1091.40" stroke="#141414" stroke-width="1.7"/>
<rect x="1023.50" y="1024.50" width="34.0" height="53.30" fill="none" stroke="#141414" stroke-width="1.7"/>
<line x1="1023.50" y1="1042.30" x2="1057.50" y2="1042.30" stroke="#141414" stroke-width="1.7"/>
<line x1="1193.90" y1="935.70" x2="1193.90" y2="944.90" stroke="#c9706a" stroke-width="1.7"/>
<line x1="1193.90" y1="1005.80" x2="1193.90" y2="1026.30" stroke="#c9706a" stroke-width="1.7"/>
<rect x="1176.90" y="944.90" width="34.0" height="60.90" fill="#f0b4b3" stroke="#c9706a" stroke-width="1.7"/>
<line x1="1176.90" y1="978.80" x2="1210.90" y2="978.80" stroke="#c9706a" stroke-width="1.7"/>
<circle cx="1193.90" cy="774.70" r="5.6" fill="#f0b4b3" stroke="#c9706a" stroke-width="1.6"/>
<line x1="1262.90" y1="1000.00" x2="1262.90" y2="1030.30" stroke="#cc746b" stroke-width="1.6"/>
<rect x="1245.90" y="971.70" width="34.0" height="28.30" fill="none" stroke="#cc746b" stroke-width="1.6"/>
<line x1="1245.90" y1="981.70" x2="1279.90" y2="981.70" stroke="#cc746b" stroke-width="1.6"/>
<circle cx="1262.90" cy="790.40" r="5.6" fill="none" stroke="#cc746b" stroke-width="1.6"/>
<line x1="1424.10" y1="728.30" x2="1424.10" y2="769.30" stroke="#28557a" stroke-width="1.7"/>
<line x1="1424.10" y1="889.80" x2="1424.10" y2="905.30" stroke="#28557a" stroke-width="1.7"/>
<rect x="1407.10" y="769.30" width="34.0" height="120.50" fill="#65a0ce" stroke="#28557a" stroke-width="1.7"/>
<line x1="1407.10" y1="828.70" x2="1441.10" y2="828.70" stroke="#28557a" stroke-width="1.7"/>
<line x1="1493.20" y1="896.00" x2="1493.20" y2="942.50" stroke="#6c9ecb" stroke-width="1.6"/>
<rect x="1476.20" y="835.50" width="34.0" height="60.50" fill="none" stroke="#6c9ecb" stroke-width="1.6"/>
<line x1="1476.20" y1="882.70" x2="1510.20" y2="882.70" stroke="#6c9ecb" stroke-width="1.6"/>
<circle cx="1493.50" cy="708.80" r="5.6" fill="none" stroke="#6c9ecb" stroke-width="1.6"/>
<line x1="973.10" y1="1136.10" x2="1041.50" y2="1136.10" stroke="#111111" stroke-width="4"/>
<line x1="1195.30" y1="1136.00" x2="1264.70" y2="1136.00" stroke="#111111" stroke-width="4"/>
<line x1="1425.80" y1="1136.00" x2="1494.80" y2="1136.00" stroke="#111111" stroke-width="4"/>
<text x="987.97" y="1124.50" font-size="28.8" textLength="44.34" lengthAdjust="spacingAndGlyphs" fill="#111111" stroke="#111111" stroke-width="0.5" font-weight="normal" style="font-family:'Liberation Sans', sans-serif">n.s.</text>
<text x="1208.89" y="1124.50" font-size="28.8" textLength="44.01" lengthAdjust="spacingAndGlyphs" fill="#111111" stroke="#111111" stroke-width="0.5" font-weight="normal" style="font-family:'Liberation Sans', sans-serif">n.s.</text>
<text x="1439.57" y="1124.50" font-size="28.8" textLength="44.34" lengthAdjust="spacingAndGlyphs" fill="#111111" stroke="#111111" stroke-width="0.5" font-weight="normal" style="font-family:'Liberation Sans', sans-serif">n.s.</text>
<text x="984.14" y="1218.00" font-size="37.5" textLength="57.01" lengthAdjust="spacingAndGlyphs" fill="#111111" stroke="#111111" stroke-width="0.4" font-weight="normal" style="font-family:'Liberation Sans', sans-serif">Ctrl</text>
<text x="1202.51" y="1218.20" font-size="37.5" textLength="53.97" lengthAdjust="spacingAndGlyphs" fill="#111111" stroke="#111111" stroke-width="0.4" font-weight="normal" style="font-family:'Liberation Sans', sans-serif">LS1</text>
<text x="1437.21" y="1218.20" font-size="37.5" textLength="56.18" lengthAdjust="spacingAndGlyphs" fill="#111111" stroke="#111111" stroke-width="0.4" font-weight="normal" style="font-family:'Liberation Sans', sans-serif">LS2</text>
<text x="1122.48" y="688.80" font-size="46.2" textLength="254.42" lengthAdjust="spacingAndGlyphs" fill="#111111" font-weight="bold" style="font-family:'Liberation Sans', sans-serif">Tb.Sp (mm)</text>
</svg>
</body></html>
